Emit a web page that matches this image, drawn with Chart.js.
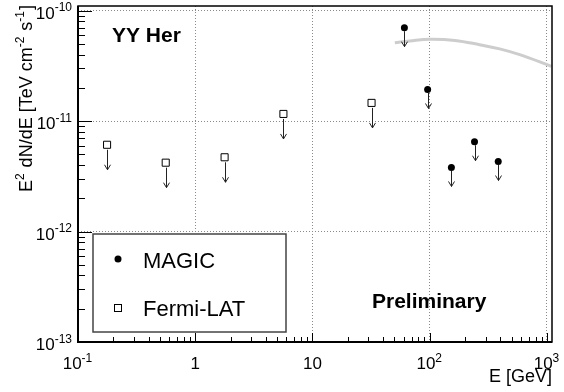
<!DOCTYPE html>
<html>
<head>
<meta charset="utf-8">
<script src="https://cdn.jsdelivr.net/npm/chart.js@4"></script>
<style>
  html, body { margin: 0; padding: 0; background: #fff; }
</style>
</head>
<body>
<canvas id="sed" width="564" height="392"></canvas>
<script>
// energies in GeV, E^2 dN/dE in TeV cm^-2 s^-1 (all points are upper limits)
var fermiEnergy = [0.177, 0.56, 1.78, 5.65, 31.9];
var fermiFlux = [6.1e-12, 4.2e-12, 4.7e-12, 1.16e-11, 1.46e-11];
var magicEnergy = [60.8, 96, 153, 241, 384];
var magicFlux = [7.0e-11, 1.93e-11, 3.8e-12, 6.5e-12, 4.3e-12];

// grey curve
var curveEnergy = [50.4, 67.6, 100, 164, 267, 395, 586, 1092];
var curveFlux = [5.12e-11, 5.31e-11, 5.5e-11, 5.37e-11, 4.91e-11, 4.5e-11, 3.99e-11, 3.13e-11];

var xTicks = [0.1, 1, 10, 100, 1000];
var xTickLabels = [['10', '-1'], ['1', ''], ['10', ''], ['10', '2'], ['10', '3']];
var yTicks = [1e-13, 1e-12, 1e-11, 1e-10];
var yTickLabels = [['10', '-13'], ['10', '-12'], ['10', '-11'], ['10', '-10']];

var FONT = '"Liberation Sans", Arial, Helvetica, sans-serif';

function zip(xs, ys) {
  return xs.map(function (x, i) { return {x: x, y: ys[i]}; });
}

// draws "base^exp" pieces, returns width
function drawPieces(ctx, pieces, x, y, size, supSize, dryRun) {
  var cx = x;
  pieces.forEach(function (p) {
    if (!p[0]) return;
    ctx.font = (p[1] ? supSize : size) + 'px ' + FONT;
    if (!dryRun) ctx.fillText(p[0], cx, p[1] ? y - size * 0.42 : y);
    cx += ctx.measureText(p[0]).width + (p[1] ? 1 : 0);
  });
  return cx - x;
}

var decorations = {
  id: 'decorations',
  afterDatasetsDraw: function (chart) {
    var ctx = chart.ctx;
    // upper limit arrows
    ctx.save();
    ctx.strokeStyle = '#222';
    ctx.lineWidth = 1;
    [[0, 3.5, 19], [1, 5, 25]].forEach(function (d) {
      chart.getDatasetMeta(d[0]).data.forEach(function (pt) {
        var x = Math.round(pt.x) + 0.5, y0 = pt.y + d[1], tip = pt.y + d[2];
        ctx.beginPath();
        ctx.moveTo(x, y0);
        ctx.lineTo(x, tip);
        ctx.moveTo(x - 3, tip - 5);
        ctx.lineTo(x, tip);
        ctx.lineTo(x + 3, tip - 5);
        ctx.stroke();
      });
    });
    ctx.restore();
  },
  afterDraw: function (chart) {
    var ctx = chart.ctx, a = chart.chartArea;
    var xs = chart.scales.x, ys = chart.scales.y;
    ctx.save();

    // frame
    ctx.strokeStyle = '#000';
    ctx.lineWidth = 1.5;
    ctx.strokeRect(a.left, a.top, a.right - a.left, a.bottom - a.top);
    ctx.lineWidth = 2;
    ctx.beginPath();
    ctx.moveTo(a.left, a.top);
    ctx.lineTo(a.left, a.bottom);
    ctx.lineTo(a.right, a.bottom);
    ctx.stroke();

    // ticks, inside the frame
    ctx.lineWidth = 1;
    ctx.beginPath();
    for (var e = -1; e <= 3; e++) {
      for (var k = 1; k <= 9; k++) {
        var v = k * Math.pow(10, e);
        if (v < xs.min || v > xs.max) continue;
        var px = Math.round(xs.getPixelForValue(v)) + 0.5;
        ctx.moveTo(px, a.bottom);
        ctx.lineTo(px, a.bottom - (k === 1 ? 9 : 5));
      }
    }
    for (var e2 = -13; e2 <= -10; e2++) {
      for (var k2 = 1; k2 <= 9; k2++) {
        var w = k2 * Math.pow(10, e2);
        if (w < ys.min * 0.999 || w > ys.max) continue;
        var py = Math.round(ys.getPixelForValue(w)) + 0.5;
        ctx.moveTo(a.left, py);
        ctx.lineTo(a.left + (k2 === 1 ? 14 : 7), py);
      }
    }
    ctx.stroke();

    // tick labels
    ctx.fillStyle = '#000';
    ctx.textAlign = 'left';
    ctx.textBaseline = 'alphabetic';
    xTicks.forEach(function (v, i) {
      var lab = [[xTickLabels[i][0], false], [xTickLabels[i][1], true]];
      var wd = drawPieces(ctx, lab, 0, 0, 17, 12, true);
      drawPieces(ctx, lab, xs.getPixelForValue(v) - wd / 2, 369, 17, 12);
    });
    yTicks.forEach(function (v, i) {
      var lab = [[yTickLabels[i][0], false], [yTickLabels[i][1], true]];
      var wd = drawPieces(ctx, lab, 0, 0, 17, 12, true);
      drawPieces(ctx, lab, 73 - wd, ys.getPixelForValue(v) + 8, 17, 12);
    });

    // axis titles
    ctx.font = '18px ' + FONT;
    ctx.textAlign = 'right';
    ctx.fillText('E [GeV]', 552, 382);

    var title = [['E', false], ['2', true], [' dN/dE [TeV cm', false], ['-2', true],
                 [' s', false], ['-1', true], [']', false]];
    ctx.textAlign = 'left';
    var tw = drawPieces(ctx, title, 0, 0, 18, 12, true);
    ctx.save();
    ctx.translate(32, 5 + tw);
    ctx.rotate(-Math.PI / 2);
    drawPieces(ctx, title, 0, 0, 18, 12);
    ctx.restore();

    // labels inside the plot
    ctx.font = 'bold 21px ' + FONT;
    ctx.fillText('YY Her', 112, 42);
    ctx.fillText('Preliminary', 372, 308);

    // legend
    ctx.fillStyle = '#fff';
    ctx.fillRect(93, 234, 193, 98);
    ctx.strokeStyle = '#444';
    ctx.lineWidth = 1.5;
    ctx.strokeRect(93, 234, 193, 98);
    ctx.fillStyle = '#000';
    ctx.beginPath();
    ctx.arc(118, 259, 3.5, 0, Math.PI * 2);
    ctx.fill();
    ctx.lineWidth = 1;
    ctx.strokeStyle = '#000';
    ctx.strokeRect(114.5, 304.5, 7, 7);
    ctx.font = '22px ' + FONT;
    ctx.fillText('MAGIC', 143, 268);
    ctx.fillText('Fermi-LAT', 143, 316);

    ctx.restore();
  }
};

new Chart(document.getElementById('sed'), {
  type: 'scatter',
  data: {
    datasets: [
      {
        label: 'MAGIC',
        data: zip(magicEnergy, magicFlux),
        pointStyle: 'circle',
        pointRadius: 3.5,
        backgroundColor: '#000',
        borderColor: '#000',
        borderWidth: 0
      },
      {
        label: 'Fermi-LAT',
        data: zip(fermiEnergy, fermiFlux),
        pointStyle: 'rect',
        pointRadius: 5,
        backgroundColor: '#fff',
        borderColor: '#000',
        borderWidth: 1
      },
      {
        label: 'curve',
        type: 'line',
        data: zip(curveEnergy, curveFlux),
        showLine: true,
        tension: 0.4,
        pointRadius: 0,
        borderColor: '#cdcdcd',
        borderWidth: 3,
        fill: false
      }
    ]
  },
  options: {
    responsive: false,
    animation: false,
    devicePixelRatio: 1,
    layout: { padding: { left: 78, top: 4.5, right: 12, bottom: 50 } },
    plugins: {
      legend: { display: false },
      tooltip: { enabled: false }
    },
    scales: {
      x: {
        type: 'logarithmic',
        min: 0.1,
        max: 1104,
        afterBuildTicks: function (scale) {
          scale.ticks = xTicks.map(function (v) { return {value: v}; });
        },
        ticks: { display: false },
        grid: { color: '#8a8a8a', lineWidth: 1, drawTicks: false },
        border: { display: false, dash: [1, 2] }
      },
      y: {
        type: 'logarithmic',
        min: 1e-13,
        max: 1.1e-10,
        afterBuildTicks: function (scale) {
          scale.ticks = yTicks.map(function (v) { return {value: v}; });
        },
        ticks: { display: false },
        grid: { color: '#8a8a8a', lineWidth: 1, drawTicks: false },
        border: { display: false, dash: [1, 2] }
      }
    }
  },
  plugins: [decorations]
});
</script>
</body>
</html>
